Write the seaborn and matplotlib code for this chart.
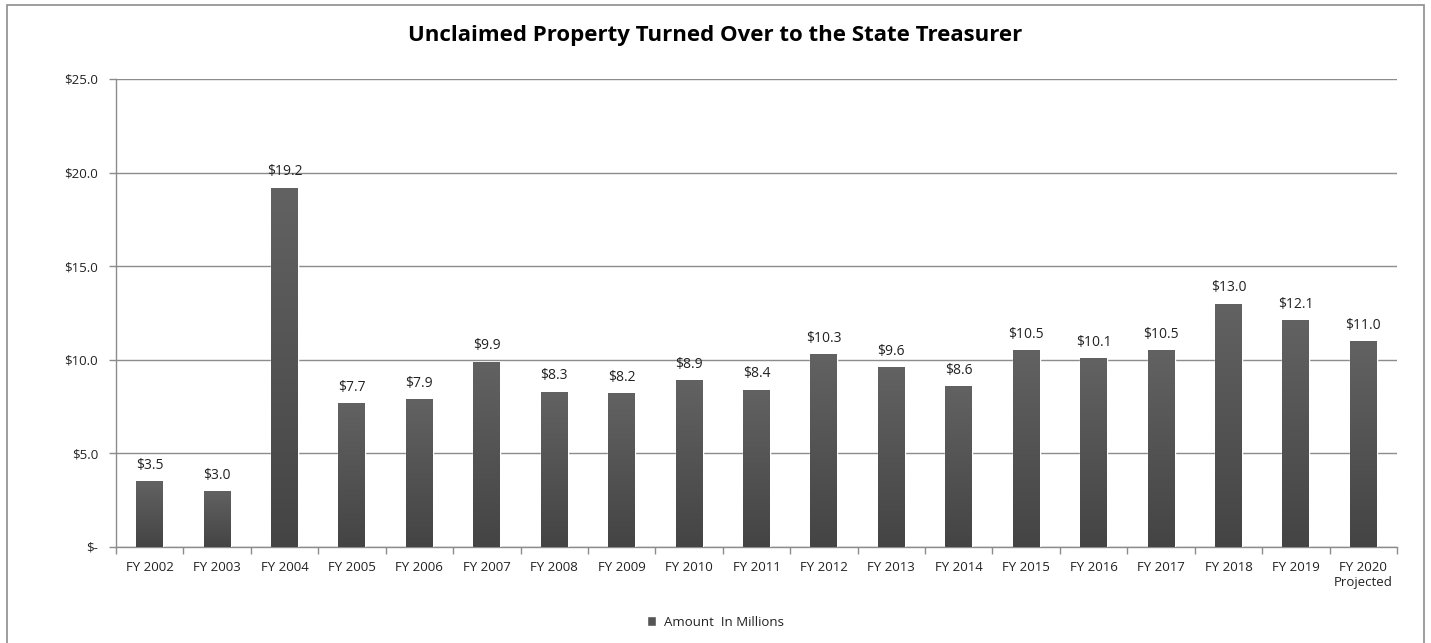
import numpy as np
import pandas as pd
import matplotlib
matplotlib.use("Agg")
import matplotlib.pyplot as plt
import seaborn as sns
from matplotlib.patches import Rectangle
from matplotlib.ticker import FixedLocator

categories = ["FY 2002", "FY 2003", "FY 2004", "FY 2005", "FY 2006", "FY 2007", "FY 2008",
              "FY 2009", "FY 2010", "FY 2011", "FY 2012", "FY 2013", "FY 2014", "FY 2015",
              "FY 2016", "FY 2017", "FY 2018", "FY 2019", "FY 2020\nProjected"]
values = [3.5, 3.0, 19.2, 7.7, 7.9, 9.9, 8.3, 8.2, 8.9, 8.4, 10.3, 9.6, 8.6, 10.5,
          10.1, 10.5, 13.0, 12.1, 11.0]
y_ticks = [0, 5, 10, 15, 20, 25]
y_labels = ["$-", "$5.0", "$10.0", "$15.0", "$20.0", "$25.0"]
series_name = "Amount  In Millions"
title = "Unclaimed Property Turned Over to the State Treasurer"

sns.set_theme(style="white")
plt.rcParams['font.family'] = ['Open Sans', 'DejaVu Sans']

df = pd.DataFrame({"cat": categories, "val": values, "series": series_name})

fig = plt.figure(figsize=(14.31, 6.43), dpi=100)
ax = fig.add_axes([116/1431, 1-547/643, (1397-116)/1431, (547-79)/643])

sns.barplot(data=df, x="cat", y="val", hue="series", palette=["#555555"], width=0.4,
            ax=ax, legend=True, zorder=3)

# gradient fill on bars
grad = np.linspace(0, 1, 256).reshape(-1, 1)
cmap = matplotlib.colors.LinearSegmentedColormap.from_list("g", ["#444444", "#626262"])
for p in ax.patches:
    x0, y0 = p.get_x(), p.get_y()
    w, h = p.get_width(), p.get_height()
    if h <= 0:
        continue
    im = ax.imshow(grad, cmap=cmap, aspect="auto", origin="lower",
                   extent=[x0, x0 + w, y0, y0 + h], zorder=4)
    im.set_clip_path(p)

for i, v in enumerate(values):
    ax.annotate(f"${v:.1f}", (i, v), xytext=(0, 6), textcoords="offset points",
                ha="center", va="bottom", fontsize=10, color="#222222")

ax.set_xlim(-0.5, len(categories) - 0.5)
ax.set_ylim(0, 25)
ax.set_yticks(y_ticks)
ax.set_yticklabels(y_labels, fontsize=9.5, color="#222222")
ax.set_xticks(range(len(categories)))
ax.set_xticklabels(categories, fontsize=9.5, color="#222222")
ax.xaxis.set_minor_locator(FixedLocator(np.arange(-0.5, len(categories), 1.0)))
ax.tick_params(axis="x", which="major", length=0, pad=10)
ax.tick_params(axis="x", which="minor", length=5, width=1, color="#8c8c8c", direction="out", bottom=True)
ax.tick_params(axis="y", which="major", length=5, width=1, color="#8c8c8c", direction="out", left=True, pad=8)
ax.yaxis.grid(True, color="#8c8c8c", linewidth=1)
ax.set_axisbelow(True)
ax.set_xlabel("")
ax.set_ylabel("")
for s in ["top", "right"]:
    ax.spines[s].set_visible(False)
for s in ["left", "bottom"]:
    ax.spines[s].set_color("#8c8c8c")
    ax.spines[s].set_linewidth(1)

leg = ax.legend(loc="center", bbox_to_anchor=(0.5, 1 - 622/643), bbox_transform=fig.transFigure,
                frameon=False, fontsize=9.5, handlelength=0.7, handleheight=0.7, handletextpad=0.6)
for t in leg.get_texts():
    t.set_color("#222222")

fig.text(0.5, 1 - 36/643, title, ha="center", va="center", fontsize=16, fontweight="bold",
         color="#000000")

fig.patches.append(Rectangle((7/1431, -0.01), (1424-7)/1431, 1 - 5/643 + 0.01,
                             transform=fig.transFigure, fill=False, edgecolor="#8c8c8c",
                             linewidth=1.2))

fig.savefig("out.png", dpi=100)
